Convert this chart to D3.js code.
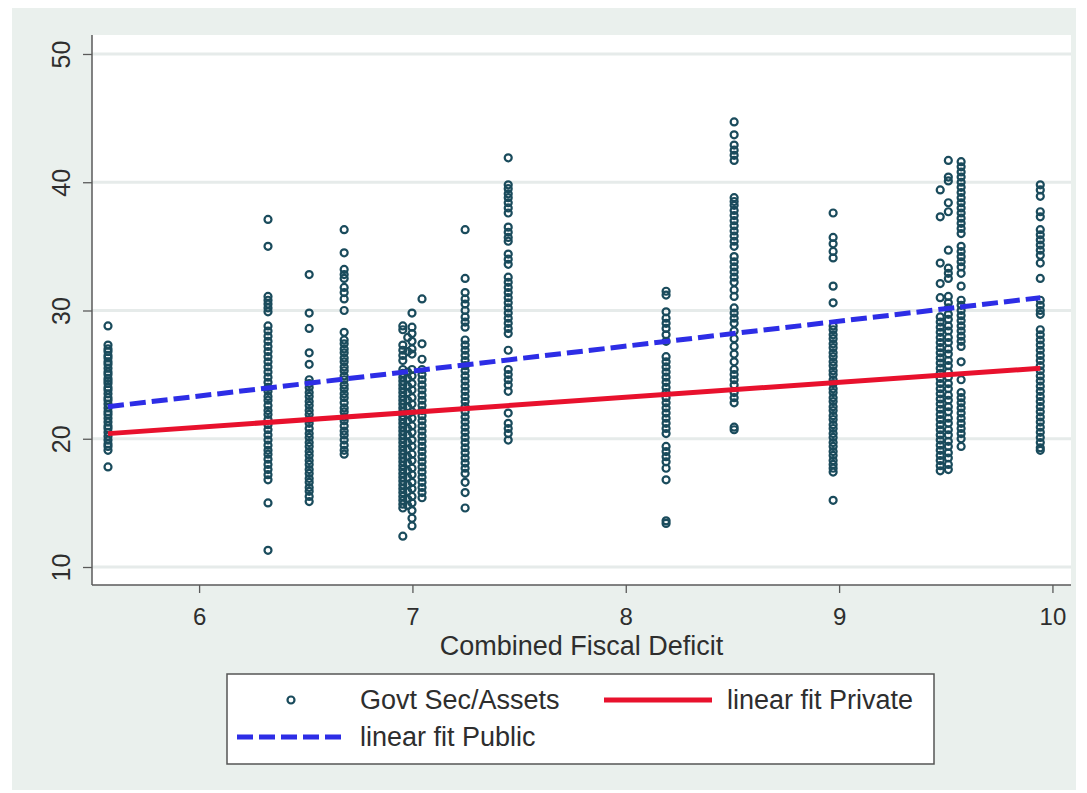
<!DOCTYPE html>
<html>
<head>
<meta charset="utf-8">
<script src="https://cdn.jsdelivr.net/npm/d3@7"></script>
<style>
  html, body { margin: 0; padding: 0; background: #ffffff; }
  svg { display: block; }
  text { font-family: "Liberation Sans", Arial, sans-serif; fill: #2e2e2e; }
</style>
</head>
<body>
<svg id="chart" width="1087" height="793"></svg>
<script>
// ---------------- Data ----------------
const yTicks = [10, 20, 30, 40, 50];
const xTicks = [6, 7, 8, 9, 10];
const xTitle = "Combined Fiscal Deficit";
const legendLabels = ["Govt Sec/Assets", "linear fit Private", "linear fit Public"];

// x position (Combined Fiscal Deficit) of each column of observations
const colX = [5.573, 6.323, 6.516, 6.680, 6.955, 6.978, 6.998, 7.045, 7.247, 7.449,
              8.189, 8.508, 8.972, 9.474, 9.512, 9.572, 9.943];

// Govt Sec/Assets values of each column (same order as colX)
const col01 = [28.8, 27.3, 27.0, 26.8, 26.5, 26.3, 26.0, 25.8, 25.5, 25.2, 25.0, 24.7, 24.5, 24.3, 24.0, 23.8, 23.5, 23.2, 23.0, 22.7, 22.4, 22.1, 21.9, 21.6, 21.3, 21.0, 20.8, 20.5, 20.2, 19.9, 19.6, 19.4, 19.1, 17.8];
const col02 = [37.1, 35.0, 31.1, 30.8, 30.5, 30.2, 29.9, 28.8, 28.4, 28.0, 27.6, 27.2, 26.8, 26.4, 26.0, 25.6, 25.2, 24.8, 24.4, 24.0, 23.7, 23.3, 23.0, 22.6, 22.2, 21.9, 21.5, 21.1, 20.7, 20.3, 19.9, 19.5, 19.1, 18.8, 18.4, 18.0, 17.6, 17.2, 16.8, 15.0, 11.3];
const col03 = [32.8, 29.8, 28.6, 26.7, 25.8, 24.6, 24.3, 24.0, 23.6, 23.3, 22.9, 22.6, 22.2, 21.9, 21.5, 21.2, 20.8, 20.4, 20.1, 19.7, 19.4, 19.0, 18.7, 18.3, 18.0, 17.6, 17.3, 16.9, 16.6, 16.2, 15.9, 15.5, 15.1];
const col04 = [36.3, 34.5, 33.2, 32.8, 32.5, 31.8, 31.4, 30.9, 30.0, 28.3, 27.7, 27.4, 27.0, 26.7, 26.3, 26.0, 25.6, 25.3, 24.9, 24.6, 24.2, 23.9, 23.5, 23.2, 22.8, 22.4, 22.1, 21.7, 21.4, 21.0, 20.6, 20.3, 19.9, 19.5, 19.1, 18.8];
const col05 = [28.8, 28.5, 27.3, 26.9, 26.5, 26.1, 25.4, 25.1, 24.8, 24.5, 24.2, 23.9, 23.6, 23.3, 23.0, 22.7, 22.4, 22.1, 21.8, 21.5, 21.2, 20.9, 20.6, 20.3, 20.0, 19.7, 19.4, 19.1, 18.8, 18.5, 18.2, 17.9, 17.6, 17.3, 17.0, 16.7, 16.4, 16.1, 15.8, 15.5, 15.2, 14.9, 14.6, 12.4];
const col06 = [27.9, 26.8, 25.2, 24.7, 24.1, 23.6, 23.0, 22.5, 21.9, 21.4, 20.8, 20.3, 19.7, 19.2, 18.6, 18.1, 17.5, 17.0, 16.4, 15.9, 15.3, 14.8];
const col07 = [29.8, 28.7, 28.2, 27.6, 27.0, 26.6, 25.4, 24.9, 24.3, 23.8, 23.2, 22.7, 22.1, 21.6, 21.0, 20.5, 19.9, 19.4, 18.8, 18.3, 17.7, 17.2, 16.6, 16.1, 15.5, 15.0, 14.4, 13.8, 13.2];
const col08 = [30.9, 27.4, 26.2, 25.4, 25.0, 24.6, 24.2, 23.8, 23.4, 23.0, 22.6, 22.2, 21.8, 21.4, 21.0, 20.6, 20.2, 19.8, 19.4, 19.0, 18.6, 18.2, 17.8, 17.4, 17.0, 16.6, 16.2, 15.8, 15.4];
const col09 = [36.3, 32.5, 31.4, 30.9, 30.5, 30.0, 29.5, 29.1, 28.7, 27.7, 27.3, 26.9, 26.5, 26.1, 25.7, 25.3, 24.9, 24.5, 24.1, 23.7, 23.3, 22.9, 22.5, 22.1, 21.7, 21.3, 20.9, 20.5, 20.1, 19.7, 19.3, 18.9, 18.5, 18.1, 17.7, 17.3, 16.6, 15.8, 14.6];
const col10 = [41.9, 39.8, 39.5, 39.1, 38.8, 38.4, 38.0, 37.6, 36.5, 36.1, 35.7, 35.4, 34.4, 34.0, 33.6, 32.6, 32.2, 31.8, 31.4, 31.0, 30.6, 30.2, 29.8, 29.4, 29.0, 28.6, 28.2, 26.9, 25.4, 25.0, 24.6, 24.2, 23.7, 22.0, 21.2, 20.8, 20.4, 19.9];
const col11 = [31.5, 31.2, 29.9, 29.4, 29.0, 28.6, 28.1, 27.6, 26.4, 26.0, 25.6, 25.2, 24.8, 24.4, 24.0, 23.6, 23.2, 22.8, 22.4, 22.0, 21.6, 21.2, 20.8, 20.4, 19.4, 19.0, 18.6, 18.2, 17.7, 16.8, 13.6, 13.4];
const col12 = [44.7, 43.7, 42.9, 42.5, 42.1, 41.7, 38.8, 38.5, 38.2, 37.8, 37.4, 37.0, 36.6, 36.2, 35.8, 35.4, 35.0, 34.2, 33.8, 33.4, 33.0, 32.6, 32.2, 31.6, 31.1, 30.2, 29.8, 29.4, 29.0, 28.4, 27.8, 27.2, 26.6, 26.0, 25.4, 25.0, 24.6, 24.2, 23.6, 23.2, 22.8, 20.9, 20.7];
const col13 = [37.6, 35.7, 35.2, 34.6, 34.1, 31.9, 30.6, 28.8, 28.5, 28.1, 27.8, 27.4, 27.1, 26.7, 26.4, 26.0, 25.7, 25.3, 25.0, 24.6, 24.3, 23.9, 23.6, 23.2, 22.9, 22.5, 22.2, 21.8, 21.5, 21.1, 20.8, 20.4, 20.1, 19.7, 19.4, 19.0, 18.7, 18.3, 18.0, 17.7, 17.4, 15.2];
const col14 = [39.4, 37.3, 33.7, 32.1, 31.0, 29.5, 29.1, 28.7, 28.3, 27.9, 27.5, 27.1, 26.7, 26.3, 25.9, 25.5, 25.1, 24.7, 24.3, 23.9, 23.5, 23.1, 22.7, 22.3, 21.9, 21.5, 21.1, 20.7, 20.3, 19.9, 19.5, 19.1, 18.7, 18.3, 17.9, 17.5];
const col15 = [41.7, 40.4, 40.1, 38.4, 37.7, 34.7, 33.3, 32.9, 32.5, 31.1, 30.6, 30.2, 29.7, 29.3, 28.8, 28.4, 27.9, 27.5, 27.0, 26.6, 26.1, 25.7, 25.2, 24.8, 24.3, 23.9, 23.4, 23.0, 22.5, 22.1, 21.6, 21.2, 20.7, 20.3, 19.8, 19.4, 18.9, 18.5, 18.0, 17.6];
const col16 = [41.6, 41.2, 40.8, 40.4, 40.0, 39.6, 39.2, 38.8, 38.4, 38.0, 37.6, 37.2, 36.8, 36.4, 36.0, 35.0, 34.6, 34.2, 33.8, 33.4, 32.9, 31.9, 30.8, 30.4, 30.0, 29.6, 29.2, 28.8, 28.4, 28.0, 27.6, 27.2, 26.0, 24.6, 23.6, 23.2, 22.8, 22.4, 22.0, 21.6, 21.2, 20.8, 20.4, 20.0, 19.4];
const col17 = [39.8, 39.4, 38.9, 37.7, 37.3, 36.3, 35.9, 35.5, 35.1, 34.7, 34.3, 33.7, 32.5, 30.8, 30.4, 30.0, 29.7, 28.5, 28.1, 27.7, 27.3, 26.9, 26.5, 26.1, 25.7, 25.3, 24.9, 24.5, 24.1, 23.7, 23.3, 22.9, 22.5, 22.1, 21.7, 21.3, 20.9, 20.5, 20.1, 19.7, 19.3, 19.1];
const colY = [col01, col02, col03, col04, col05, col06, col07, col08, col09, col10,
              col11, col12, col13, col14, col15, col16, col17];

// linear fits (endpoints at min and max of the observed x)
const fitX = [5.573, 9.943];
const fitPrivate = [20.4, 25.5];
const fitPublic = [22.5, 31.0];

// ---------------- Chart ----------------
const svg = d3.select("#chart");
const plot = { left: 92, right: 1071, top: 35, bottom: 585 };

const x = d3.scaleLinear().domain([5.498, 10.087]).range([plot.left, plot.right]);
const y = d3.scaleLinear().domain([8.597, 51.48]).range([plot.bottom, plot.top]);

// graph region background
svg.append("rect").attr("x", 12).attr("y", 8).attr("width", 1064).attr("height", 782)
  .attr("fill", "#eaf0ed");

// plot region
svg.append("rect").attr("x", plot.left).attr("y", plot.top)
  .attr("width", plot.right - plot.left).attr("height", plot.bottom - plot.top)
  .attr("fill", "#ffffff");

// grid lines
svg.append("g").selectAll("line").data(yTicks).join("line")
  .attr("x1", plot.left).attr("x2", plot.right)
  .attr("y1", d => y(d)).attr("y2", d => y(d))
  .attr("stroke", "#e6ebea").attr("stroke-width", 3);

// Y axis
const yAxis = d3.axisLeft(y).tickValues(yTicks).tickSize(9).tickPadding(8).tickFormat(d3.format("d"));
const gy = svg.append("g").attr("transform", `translate(${plot.left},0)`).call(yAxis);
gy.select(".domain").attr("stroke", "#5a5a5a").attr("stroke-width", 1.5)
  .attr("d", `M0,${plot.top}V${plot.bottom}`);
gy.selectAll(".tick line").attr("stroke", "#5a5a5a").attr("stroke-width", 1.3);
gy.selectAll(".tick text")
  .attr("x", null).attr("dy", null)
  .attr("transform", "translate(-22,0) rotate(-90)")
  .attr("text-anchor", "middle")
  .style("font-size", "25px").attr("fill", "#2e2e2e");

// X axis
const xAxis = d3.axisBottom(x).tickValues(xTicks).tickSize(8).tickPadding(8).tickFormat(d3.format("d"));
const gx = svg.append("g").attr("transform", `translate(0,${plot.bottom})`).call(xAxis);
gx.select(".domain").attr("stroke", "#5a5a5a").attr("stroke-width", 1.5)
  .attr("d", `M${plot.left},0H${plot.right}`);
gx.selectAll(".tick line").attr("stroke", "#5a5a5a").attr("stroke-width", 1.3);
gx.selectAll(".tick text").attr("dy", null).attr("y", 40)
  .style("font-size", "24px").attr("fill", "#2e2e2e");

// X title
svg.append("text").attr("x", (plot.left + plot.right) / 2).attr("y", 655)
  .attr("text-anchor", "middle").style("font-size", "27px").text(xTitle);

// scatter points
const points = [];
colX.forEach((cx, i) => colY[i].forEach(v => points.push({ x: cx, y: v })));
const markerColor = "#1a4b5c";
svg.append("g").selectAll("circle").data(points).join("circle")
  .attr("cx", d => x(d.x)).attr("cy", d => y(d.y)).attr("r", 3.5)
  .attr("fill", "none").attr("stroke", markerColor).attr("stroke-width", 2.2);

// fit lines
const line = d3.line().x(d => x(d[0])).y(d => y(d[1]));
const redColor = "#e8112d", blueColor = "#2d2de6";
svg.append("path").datum(fitX.map((v, i) => [v, fitPrivate[i]]))
  .attr("d", line).attr("fill", "none").attr("stroke", redColor).attr("stroke-width", 5);
svg.append("path").datum(fitX.map((v, i) => [v, fitPublic[i]]))
  .attr("d", line).attr("fill", "none").attr("stroke", blueColor).attr("stroke-width", 5)
  .attr("stroke-dasharray", "16,6");

// legend
const lg = svg.append("g");
lg.append("rect").attr("x", 227).attr("y", 674).attr("width", 707).attr("height", 90)
  .attr("fill", "#ffffff").attr("stroke", "#555555").attr("stroke-width", 1.5);
lg.append("circle").attr("cx", 291).attr("cy", 700).attr("r", 3.5)
  .attr("fill", "none").attr("stroke", markerColor).attr("stroke-width", 2.2);
lg.append("text").attr("x", 360).attr("y", 709).style("font-size", "27px").text(legendLabels[0]);
lg.append("line").attr("x1", 604).attr("x2", 712).attr("y1", 700).attr("y2", 700)
  .attr("stroke", redColor).attr("stroke-width", 5);
lg.append("text").attr("x", 727).attr("y", 709).style("font-size", "27px").text(legendLabels[1]);
lg.append("line").attr("x1", 237).attr("x2", 345).attr("y1", 737).attr("y2", 737)
  .attr("stroke", blueColor).attr("stroke-width", 5).attr("stroke-dasharray", "16,6");
lg.append("text").attr("x", 360).attr("y", 746).style("font-size", "27px").text(legendLabels[2]);
</script>
</body>
</html>
